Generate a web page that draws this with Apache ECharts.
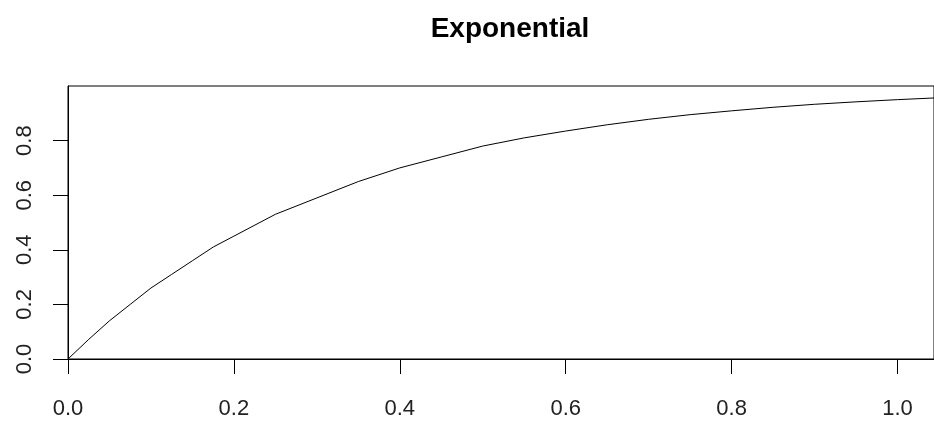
<!DOCTYPE html>
<html>
<head>
<meta charset="utf-8">
<script src="https://cdn.jsdelivr.net/npm/echarts@6/dist/echarts.min.js"></script>
<style>html,body{margin:0;padding:0;background:#fff;}#c{width:934px;height:421px;}</style>
</head>
<body>
<div id="c"></div>
<script>
var xValues = [0, 0.025, 0.05, 0.075, 0.1, 0.125, 0.15, 0.175, 0.2, 0.25, 0.3, 0.35, 0.4, 0.45, 0.5, 0.55, 0.6, 0.65, 0.7, 0.75, 0.8, 0.85, 0.9, 0.95, 1.0, 1.05];
var yValues = [0, 0.072, 0.14, 0.20, 0.26, 0.31, 0.36, 0.41, 0.45, 0.53, 0.59, 0.65, 0.70, 0.74, 0.78, 0.81, 0.835, 0.858, 0.878, 0.895, 0.909, 0.922, 0.933, 0.942, 0.950, 0.957];
var xTicks = [0, 0.2, 0.4, 0.6, 0.8, 1.0];
var yTicks = [0, 0.2, 0.4, 0.6, 0.8];
var titleText = "Exponential";

var chart = echarts.init(document.getElementById('c'));
var font = '"Liberation Sans", Arial, Helvetica, sans-serif';
chart.setOption({
  animation: false,
  backgroundColor: '#fff',
  title: {
    text: titleText,
    left: 505, top: 10, textAlign: 'center',
    textStyle: { fontFamily: font, fontWeight: 'bold', fontSize: 28, color: '#000' }
  },
  grid: {
    left: 68, right: -3, top: 86, bottom: 62,
    show: true, borderColor: '#000', borderWidth: 1, backgroundColor: 'transparent'
  },
  xAxis: {
    type: 'value', min: 0, max: 1.044,
    splitLine: { show: false },
    axisLine: { show: true, onZero: false, lineStyle: { color: '#000', width: 1 } },
    axisTick: { show: true, length: 15, customValues: xTicks, lineStyle: { color: '#000', width: 1 } },
    axisLabel: { customValues: xTicks, margin: 39, fontFamily: font, fontSize: 22, color: '#222',
      formatter: function (v) { return v.toFixed(1); } }
  },
  yAxis: {
    type: 'value', min: 0, max: 1,
    splitLine: { show: false },
    axisLine: { show: true, onZero: false, lineStyle: { color: '#000', width: 1 } },
    axisTick: { show: true, length: 15, customValues: yTicks, lineStyle: { color: '#000', width: 1 } },
    axisLabel: { customValues: yTicks, rotate: 90, margin: 32, fontFamily: font, fontSize: 22, color: '#222',
      formatter: function (v) { return v.toFixed(1); } }
  },
  series: [{
    type: 'line',
    data: xValues.map(function (x, i) { return [x, yValues[i]]; }),
    showSymbol: false,
    smooth: false,
    clip: true,
    lineStyle: { color: '#000', width: 1 }
  }]
});
</script>
</body>
</html>
